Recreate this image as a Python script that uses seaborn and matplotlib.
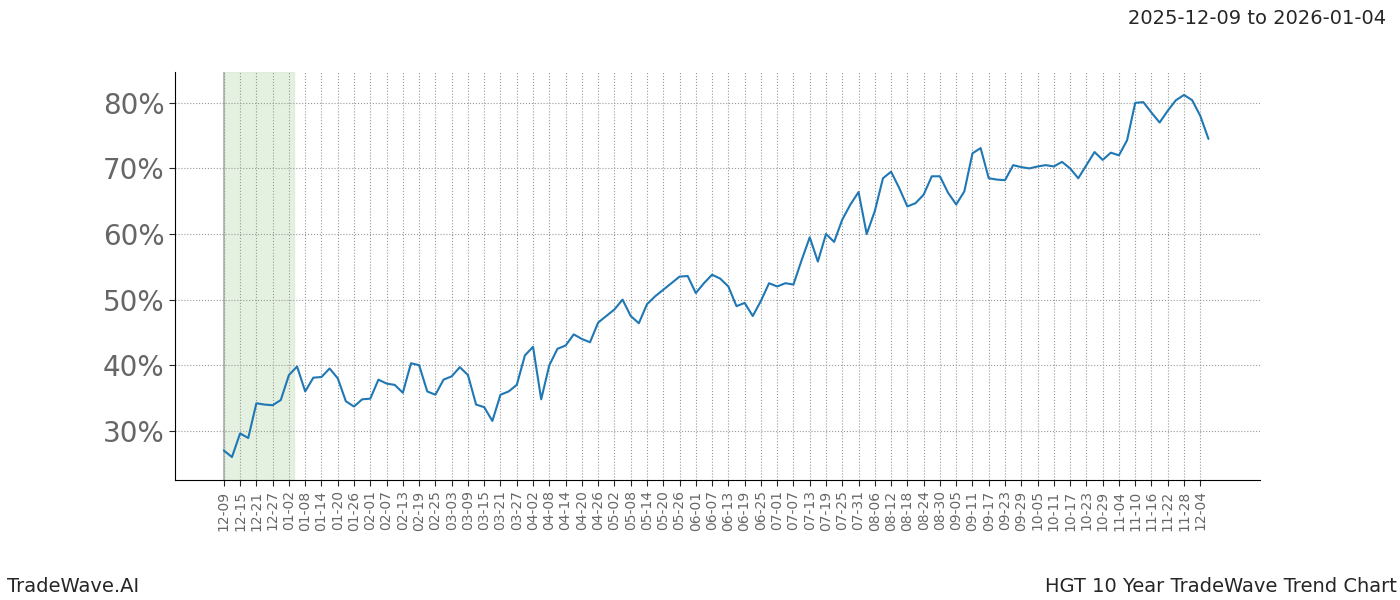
import pandas as pd
import matplotlib
matplotlib.use("Agg")
import matplotlib.pyplot as plt
import matplotlib.dates as mdates
from matplotlib.ticker import FuncFormatter
import seaborn as sns

# values sampled every 3 days starting 2024-12-09
start_date = "2024-12-09"
trend_values = [
    27.0, 26.0, 29.6, 28.9, 34.2, 34.0, 33.9, 34.7, 38.5, 39.8,
    36.0, 38.1, 38.2, 39.5, 38.0, 34.5, 33.7, 34.8, 34.9, 37.8,
    37.2, 37.0, 35.8, 40.3, 40.0, 36.0, 35.5, 37.8, 38.3, 39.7,
    38.5, 34.0, 33.6, 31.5, 35.5, 36.0, 37.0, 41.5, 42.8, 34.8,
    40.0, 42.5, 43.0, 44.7, 44.0, 43.5, 46.5, 47.5, 48.5, 50.0,
    47.5, 46.4, 49.3, 50.5, 51.5, 52.5, 53.5, 53.6, 51.0, 52.5,
    53.8, 53.2, 52.0, 49.0, 49.5, 47.5, 49.8, 52.5, 52.0, 52.5,
    52.3, 56.0, 59.5, 55.8, 60.0, 58.8, 62.2, 64.5, 66.4, 60.0,
    63.5, 68.5, 69.5, 67.0, 64.2, 64.7, 66.0, 68.8, 68.8, 66.3,
    64.5, 66.5, 72.3, 73.1, 68.5, 68.3, 68.2, 70.5, 70.2, 70.0,
    70.3, 70.5, 70.3, 71.0, 70.0, 68.5, 70.5, 72.5, 71.3, 72.4,
    72.0, 74.3, 80.0, 80.1, 78.5, 77.0, 78.8, 80.4, 81.2, 80.4,
    78.0, 74.5,
]
highlight_start = "2024-12-09"
highlight_end = "2025-01-04"
tick_start = "2024-12-09"
tick_end = "2025-12-04"

dates = pd.date_range(start_date, periods=len(trend_values), freq="3D")
df = pd.DataFrame({"date": dates, "value": trend_values})

sns.set_style("white")
fig = plt.figure(figsize=(14, 6), dpi=100)
ax = fig.add_axes([0.125, 0.2, 0.775, 0.68])

ax.axvspan(pd.Timestamp(highlight_start), pd.Timestamp(highlight_end),
           color="#d9ead3", alpha=0.7, zorder=0)
ax.axvline(pd.Timestamp(highlight_start), color="#bbbbbb", lw=1.5, zorder=0)
sns.lineplot(data=df, x="date", y="value", ax=ax, color="#1f77b4", lw=1.5)

ticks = pd.date_range(tick_start, tick_end, freq="6D")
ax.set_xticks(ticks)
ax.set_xticklabels([t.strftime("%m-%d") for t in ticks], rotation=90,
                   fontsize=10, color="#666666")
ax.set_xlim(pd.Timestamp(start_date) - pd.Timedelta(days=18),
            pd.Timestamp(start_date) + pd.Timedelta(days=382))
ax.set_ylim(22.5, 84.7)
ax.set_yticks([30, 40, 50, 60, 70, 80])
ax.yaxis.set_major_formatter(FuncFormatter(lambda v, p: f"{v:.0f}%"))
ax.tick_params(axis="y", labelsize=20, labelcolor="#666666", left=True, length=4)
ax.tick_params(axis="x", bottom=True, length=4)
ax.grid(True, color="#999999", linestyle=":", linewidth=0.8)
ax.set_xlabel("")
ax.set_ylabel("")
for s in ["top", "right"]:
    ax.spines[s].set_visible(False)
for s in ["left", "bottom"]:
    ax.spines[s].set_color("black")

fig.text(0.99, 0.97, "2025-12-09 to 2026-01-04", ha="right", va="center", fontsize=14)
fig.text(0.005, 0.022, "TradeWave.AI", ha="left", va="center", fontsize=14)
fig.text(0.998, 0.022, "HGT 10 Year TradeWave Trend Chart", ha="right", va="center", fontsize=14)

fig.savefig("out.png")
